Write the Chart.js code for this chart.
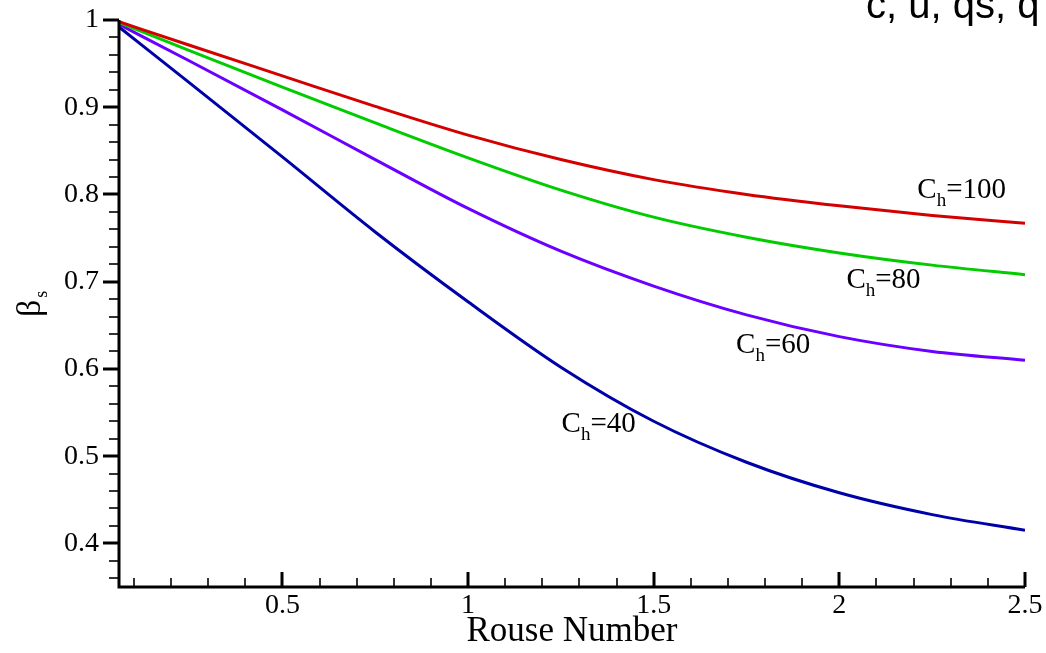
<!DOCTYPE html>
<html>
<head>
<meta charset="utf-8">
<script src="https://cdn.jsdelivr.net/npm/chart.js@4.4.1/dist/chart.umd.min.js"></script>
<style>
  html, body { margin: 0; padding: 0; background: #fff; }
  canvas { display: block; }
</style>
</head>
<body>
<canvas id="chartBeta" width="1046" height="653"></canvas>
<script>
// Rouse number (x) and beta_s for each C_h curve
const rouse     = [0.06, 0.25, 0.5, 0.75, 1.0, 1.25, 1.5, 1.75, 2.0, 2.25, 2.5];
const betaCh100 = [0.998, 0.971, 0.936, 0.901, 0.868, 0.840, 0.817, 0.800, 0.787, 0.776, 0.767];
const betaCh80  = [0.997, 0.965, 0.923, 0.882, 0.842, 0.805, 0.774, 0.751, 0.733, 0.719, 0.708];
const betaCh60  = [0.995, 0.953, 0.897, 0.840, 0.784, 0.735, 0.695, 0.662, 0.637, 0.620, 0.610];
const betaCh40  = [0.992, 0.928, 0.843, 0.757, 0.677, 0.602, 0.540, 0.493, 0.458, 0.433, 0.415];

const chValues = ['100', '80', '60', '40'];
const xTicks = [0.5, 1, 1.5, 2, 2.5];
const xTickLabels = ['0.5', '1', '1.5', '2', '2.5'];
const yTicks = [0.4, 0.5, 0.6, 0.7, 0.8, 0.9, 1];
const yTickLabels = ['0.4', '0.5', '0.6', '0.7', '0.8', '0.9', '1'];

const serif = '"Liberation Serif", "Times New Roman", serif';

function pts(ys) {
    return rouse.map((x, i) => ({ x: x, y: ys[i] }));
}

// axis lines, tick marks, curve labels and titles
const decorations = {
    id: 'decorations',
    afterDatasetsDraw(chart) {
        const ctx = chart.ctx;
        const xs = chart.scales.x, ys = chart.scales.y;
        const a = chart.chartArea;
        ctx.save();
        ctx.lineCap = 'butt';

        // minor ticks
        ctx.lineWidth = 2;
        ctx.strokeStyle = '#333';
        for (let i = 36; i <= 100; i += 2) {
            if (i % 10 === 0) continue;
            const y = Math.round(ys.getPixelForValue(i / 100));
            ctx.beginPath(); ctx.moveTo(a.left - 10, y); ctx.lineTo(a.left, y); ctx.stroke();
        }
        for (let i = 1; i <= 25; i++) {
            if (i % 5 === 0) continue;
            const x = Math.round(xs.getPixelForValue(i / 10));
            ctx.beginPath(); ctx.moveTo(x, a.bottom); ctx.lineTo(x, a.bottom - 9); ctx.stroke();
        }
        // major ticks
        ctx.strokeStyle = '#000';
        ctx.lineWidth = 3;
        yTicks.forEach(v => {
            const y = Math.round(ys.getPixelForValue(v));
            ctx.beginPath(); ctx.moveTo(a.left - 16, y); ctx.lineTo(a.left, y); ctx.stroke();
        });
        xTicks.forEach(v => {
            const x = Math.round(xs.getPixelForValue(v));
            ctx.beginPath(); ctx.moveTo(x, a.bottom); ctx.lineTo(x, a.bottom - 15); ctx.stroke();
        });
        // axis lines
        ctx.beginPath();
        ctx.moveTo(a.left, a.top);
        ctx.lineTo(a.left, a.bottom);
        ctx.lineTo(a.right, a.bottom);
        ctx.stroke();

        // curve labels C_h=...
        const spots = [[2.21, 0.796], [2.019, 0.693], [1.722, 0.618], [1.252, 0.528]];
        ctx.fillStyle = '#000';
        ctx.textBaseline = 'alphabetic';
        ctx.textAlign = 'left';
        chValues.forEach((v, i) => {
            let x = xs.getPixelForValue(spots[i][0]);
            const y = ys.getPixelForValue(spots[i][1]);
            ctx.font = '29px ' + serif;
            ctx.fillText('C', x, y);
            x += ctx.measureText('C').width;
            ctx.font = '19px ' + serif;
            ctx.fillText('h', x, y + 8);
            x += ctx.measureText('h').width;
            ctx.font = '29px ' + serif;
            ctx.fillText('=' + v, x, y);
        });

        // y title: beta_s, rotated
        ctx.save();
        ctx.translate(40, 317);
        ctx.rotate(-Math.PI / 2);
        ctx.font = '34px ' + serif;
        ctx.fillText('\u03B2', 0, 0);
        const bw = ctx.measureText('\u03B2').width;
        ctx.font = '18px ' + serif;
        ctx.fillText('s', bw + 2, 7);
        ctx.restore();

        // cut-off text at top right
        ctx.font = '40px "Liberation Sans", Arial, sans-serif';
        ctx.fillText('c, u, qs, q', 866, 18);
        ctx.restore();
    }
};

new Chart(document.getElementById('chartBeta').getContext('2d'), {
    type: 'line',
    data: {
        datasets: [
            { label: 'C_h=100', data: pts(betaCh100), borderColor: '#d40000' },
            { label: 'C_h=80',  data: pts(betaCh80),  borderColor: '#00cc00' },
            { label: 'C_h=60',  data: pts(betaCh60),  borderColor: '#6a00ff' },
            { label: 'C_h=40',  data: pts(betaCh40),  borderColor: '#0000a8' }
        ]
    },
    options: {
        responsive: false,
        animation: false,
        devicePixelRatio: 1,
        layout: { padding: { left: 0, right: 21, top: 20, bottom: 0 } },
        elements: {
            point: { radius: 0 },
            line: { borderWidth: 3, cubicInterpolationMode: 'monotone', fill: false }
        },
        plugins: { legend: { display: false }, tooltip: { enabled: false } },
        scales: {
            x: {
                type: 'linear',
                min: 0.06,
                max: 2.5,
                grid: { display: false, drawTicks: false },
                border: { display: false },
                afterBuildTicks: s => { s.ticks = xTicks.map(v => ({ value: v })); },
                afterFit: s => { s.height = 66; s.paddingLeft = 0; s.paddingRight = 0; },
                ticks: {
                    padding: 2,
                    color: '#000',
                    font: { family: serif, size: 28 },
                    maxRotation: 0,
                    autoSkip: false,
                    callback: (v) => xTickLabels[xTicks.indexOf(v)]
                },
                title: {
                    display: true,
                    text: 'Rouse Number',
                    color: '#000',
                    font: { family: serif, size: 35 },
                    padding: { top: 0, bottom: 0 }
                }
            },
            y: {
                type: 'linear',
                min: 0.35,
                max: 1.0,
                grid: { display: false, drawTicks: false },
                border: { display: false },
                afterBuildTicks: s => { s.ticks = yTicks.map(v => ({ value: v })); },
                afterFit: s => { s.width = 119; s.paddingTop = 0; s.paddingBottom = 0; },
                ticks: {
                    padding: 20,
                    color: '#000',
                    font: { family: serif, size: 28 },
                    autoSkip: false,
                    callback: (v) => yTickLabels[yTicks.indexOf(v)]
                }
            }
        }
    },
    plugins: [decorations]
});
</script>
</body>
</html>
